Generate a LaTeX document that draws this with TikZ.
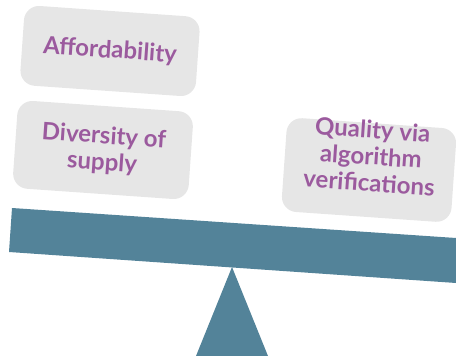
\documentclass[tikz,border=0pt]{standalone}
\usepackage{fontspec}
\setmainfont{Lato}
\usetikzlibrary{shapes.geometric, positioning}
\definecolor{beamblue}{RGB}{83,131,153}
\definecolor{cardgrey}{RGB}{230,230,230}
\definecolor{labelpurple}{RGB}{155,90,158}
\tikzstyle{card}     = [rectangle, rounded corners=15pt, fill=cardgrey, rotate=-4]
\tikzstyle{cardtext} = [rotate=-4, text=labelpurple, align=center, inner sep=0pt,
                        font=\bfseries\fontsize{24}{26.5}\selectfont]
\tikzstyle{seesaw}   = [fill=beamblue]

\begin{document}
\begin{tikzpicture}[x=1pt,y=-1pt]
  \useasboundingbox (0,0) rectangle (456,356);
  % cards
  \node (afford)    [card, minimum width=176pt, minimum height=80pt] at (110,51) {};
  \node (diversity) [card, minimum width=176pt, minimum height=88pt] at (103,150) {};
  \node (quality)   [card, minimum width=170pt, minimum height=94pt] at (369,170) {};
  \node (affordtext)    [cardtext] at (afford.center)    {Affordability};
  \node (diversitytext) [cardtext] at (diversity.center) {Diversity of\\supply};
  \node (qualitytext)   [cardtext] at (371,156) {Quality via\\algorithm\\verifications};
  % seesaw
  \fill[seesaw] (12,208) -- (456,238) -- (456,283) -- (9,252) -- cycle;
  \fill[seesaw] (232,267) -- (268,356) -- (196,356) -- cycle;
\end{tikzpicture}
\end{document}
